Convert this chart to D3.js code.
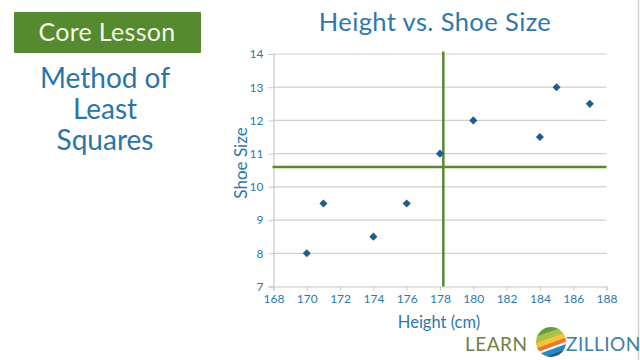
<!DOCTYPE html>
<html>
<head>
<meta charset="utf-8">
<script src="https://cdn.jsdelivr.net/npm/d3@7/dist/d3.min.js"></script>
<style>
html,body{margin:0;padding:0;background:#fff;}
svg{display:block;}
text{font-family:"Lato","Open Sans",sans-serif;}
</style>
</head>
<body>
<svg id="chart" width="640" height="360"></svg>
<script>
// Data
const heights = [170, 171, 174, 176, 178, 180, 184, 185, 187];
const shoeSizes = [8, 9.5, 8.5, 9.5, 11, 12, 11.5, 13, 12.5];
const xTicks = [168, 170, 172, 174, 176, 178, 180, 182, 184, 186, 188];
const yTicks = [7, 8, 9, 10, 11, 12, 13, 14];
const meanHeight = 178.2;
const meanShoe = 10.6;

const svg = d3.select("#chart");
const blue = "#2b78ad";
const green = "#558a2e";

// Right border
svg.append("line").attr("x1",638.5).attr("x2",638.5).attr("y1",0).attr("y2",360)
  .attr("stroke","#d0d0d0").attr("stroke-width",1.5);

// Core Lesson box
svg.append("rect").attr("x",14).attr("y",12).attr("width",187).attr("height",41)
  .attr("fill",green).attr("rx",1);
svg.append("text").attr("x",107).attr("y",41).attr("text-anchor","middle")
  .attr("fill","#f4f6ea").attr("font-size",25).attr("letter-spacing",0.3).text("Core Lesson");

// Lesson title
const lt = ["Method of","Least","Squares"];
svg.selectAll("text.lt").data(lt).join("text").attr("class","lt")
  .attr("x",105).attr("y",(d,i)=>88+i*31).attr("text-anchor","middle")
  .attr("fill","#2a74aa").attr("font-size",28).text(d=>d);

// Chart title
svg.append("text").attr("x",435).attr("y",31).attr("text-anchor","middle")
  .attr("fill",blue).attr("font-size",25.5).attr("letter-spacing",0.4).text("Height vs. Shoe Size");

// Scales
const x = d3.scaleLinear().domain([168,188]).range([273.5,606.5]);
const y = d3.scaleLinear().domain([7,14]).range([286.5,54]);

// Gridlines
svg.append("g").selectAll("line").data(yTicks.slice(1)).join("line")
  .attr("x1",x(168)).attr("x2",x(188)).attr("y1",d=>y(d)).attr("y2",d=>y(d))
  .attr("stroke","#cfcfcf").attr("stroke-width",1.2);

// Axes
const xAxis = d3.axisBottom(x).tickValues(xTicks).tickSize(4).tickPadding(4).tickFormat(d3.format("d"));
const yAxis = d3.axisLeft(y).tickValues(yTicks).tickSize(5).tickPadding(5).tickFormat(d3.format("d"));
const gx = svg.append("g").attr("transform",`translate(0,${y(7)})`).call(xAxis);
const gy = svg.append("g").attr("transform",`translate(${x(168)},0)`).call(yAxis);
[gx,gy].forEach(g=>{
  g.select(".domain").attr("stroke","#c8c8c8").attr("stroke-width",1.2);
  g.selectAll(".tick line").attr("stroke","#c8c8c8");
  g.selectAll(".tick text").attr("fill",blue).attr("font-size",12)
    .attr("font-family","Lato, 'Open Sans', sans-serif");
});

// Axis labels
svg.append("text").attr("x",439).attr("y",328).attr("text-anchor","middle")
  .attr("fill",blue).attr("font-size",16.5).text("Height (cm)");
svg.append("text").attr("transform","translate(247,163) rotate(-90)")
  .attr("text-anchor","middle").attr("fill",blue).attr("font-size",17).text("Shoe Size");

// Mean lines
svg.append("line").attr("x1",x(168)-1).attr("x2",x(188)).attr("y1",y(meanShoe)).attr("y2",y(meanShoe))
  .attr("stroke",green).attr("stroke-width",2.5);
svg.append("line").attr("x1",x(meanHeight)).attr("x2",x(meanHeight)).attr("y1",y(14)-2.5).attr("y2",y(7))
  .attr("stroke",green).attr("stroke-width",2.5);

// Points
const pts = heights.map((h,i)=>({h, s:shoeSizes[i]}));
svg.append("g").selectAll("path").data(pts).join("path")
  .attr("transform",d=>`translate(${x(d.h)},${y(d.s)})`)
  .attr("d",d3.symbol(d3.symbolDiamond2,42)())
  .attr("fill","#1d5e8c");

// Logo
const logo = svg.append("g");
logo.append("text").attr("x",465).attr("y",351).attr("fill","#6f7f4a")
  .attr("font-size",19).attr("letter-spacing",0.5).text("LEARN");
logo.append("text").attr("x",566).attr("y",351).attr("fill","#3d7fa6")
  .attr("font-size",19).attr("letter-spacing",0.5).text("ZILLION");
const cx = 551, cy = 342, r = 15;
const clip = svg.append("defs").append("clipPath").attr("id","ball");
clip.append("circle").attr("cx",cx).attr("cy",cy).attr("r",r);
const ball = logo.append("g").attr("clip-path","url(#ball)");
const stripes = [["#6b9a3a",-16],["#a9c24a",-10],["#f2c53d",-4],["#ec7a2a",1],["#ffffff",5],["#2d86c4",7],["#1b5f96",12]];
stripes.forEach(([c,o])=>{
  ball.append("rect").attr("x",cx-25).attr("y",cy+o).attr("width",50).attr("height",7)
    .attr("fill",c).attr("transform",`rotate(-20,${cx},${cy})`);
});
</script>
</body>
</html>
